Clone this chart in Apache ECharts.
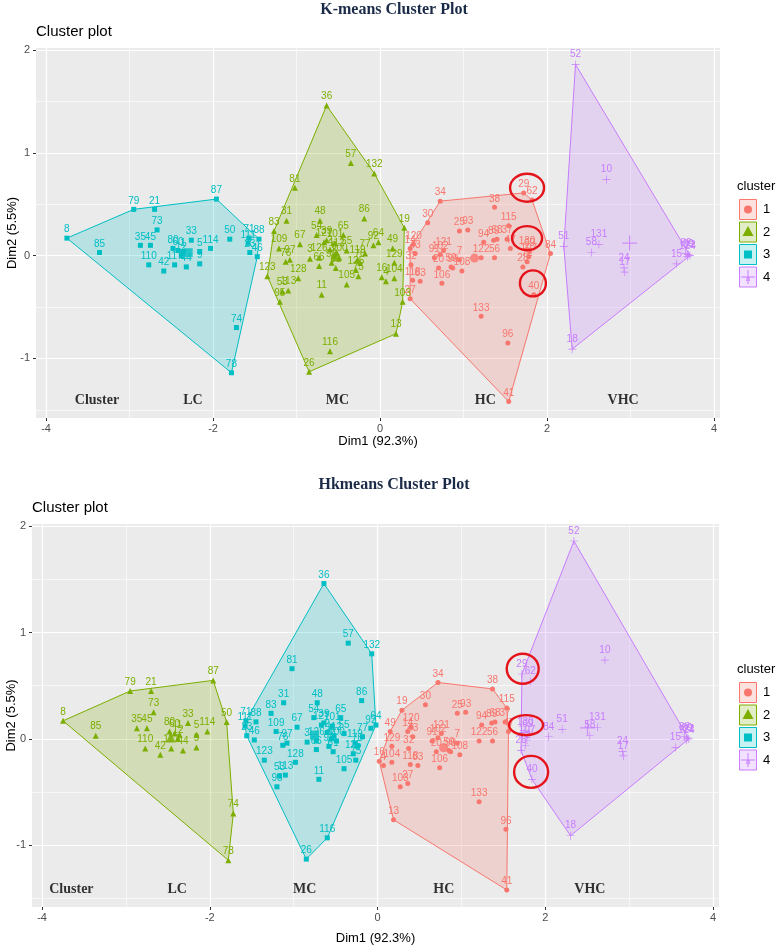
<!DOCTYPE html>
<html>
<head>
<meta charset="utf-8">
<title>K-means / Hkmeans cluster plots</title>
<script src="https://cdn.jsdelivr.net/npm/echarts@6/dist/echarts.min.js"></script>
<style>
  html, body { margin: 0; padding: 0; background: #fff; }
  #main { width: 778px; height: 949px; }
</style>
</head>
<body>
<div id="main"></div>
<script>
var obsId = [
  8, 85, 79, 21, 87, 73, 35, 45, 80, 33, 1, 60, 12, 5, 9, 114, 50, 110, 42, 117, 44, 74, 78,
  71, 111, 23, 46, 88,
  36, 57, 132, 81, 31, 48, 86, 83, 123, 109, 67, 76, 97, 3, 128, 53, 113, 95, 11, 116, 26, 105,
  54, 39, 101, 65, 55, 77, 92, 64, 127, 126, 2, 6, 112, 61, 66, 98, 100, 119, 70, 125, 75,
  19, 49, 129, 16, 4, 104, 103, 13,
  34, 38, 30, 25, 93, 115, 94, 89, 68, 37, 47, 120, 14, 43, 32, 118, 63, 27, 91, 102, 121, 20,
  7, 59, 90, 108, 122, 56, 106, 133, 96, 41,
  29, 62, 130, 69, 107, 72, 28, 84, 40,
  52, 10, 131, 51, 58, 24, 17, 15, 82, 99, 22, 124, 18
];
var dim1 = [
  -3.75, -3.36, -2.95, -2.70, -1.96, -2.67, -2.87, -2.75, -2.48, -2.26, -2.36, -2.42, -2.38, -2.16, -2.16, -2.03, -1.80, -2.77, -2.59, -2.46, -2.32, -1.72, -1.78,
  -1.57, -1.58, -1.56, -1.47, -1.45,
  -0.64, -0.35, -0.07, -1.02, -1.12, -0.72, -0.19, -1.27, -1.35, -1.21, -0.96, -1.13, -1.08, -0.84, -0.98, -1.17, -1.10, -1.20, -0.70, -0.60, -0.85, -0.40,
  -0.76, -0.64, -0.54, -0.44, -0.40, -0.18, -0.08, -0.02, -0.67, -0.73, -0.60, -0.55, -0.52, -0.53, -0.73, -0.58, -0.49, -0.27, -0.24, -0.29, -0.26,
  0.29, 0.15, 0.17, 0.02, 0.07, 0.17, 0.27, 0.19,
  0.72, 1.37, 0.57, 0.95, 1.05, 1.54, 1.24, 1.36, 1.40, 1.52, 1.56, 0.40, 0.36, 0.42, 0.37, 0.39, 0.48, 0.36, 0.65, 0.72, 0.76, 0.70,
  0.95, 0.85, 0.87, 0.98, 1.21, 1.37, 0.74, 1.21, 1.53, 1.54,
  1.72, 1.82, 1.76, 1.79, 1.78, 1.76, 1.71, 2.04, 1.84,
  2.34, 2.71, 2.62, 2.20, 2.53, 2.92, 2.93, 3.55, 3.66, 3.69, 3.71, 3.68, 2.30
];
var dim2 = [
  0.17, 0.03, 0.45, 0.45, 0.55, 0.25, 0.10, 0.10, 0.07, 0.15, 0.04, 0.05, 0.00, 0.04, -0.08, 0.07, 0.16, -0.09, -0.15, -0.09, -0.11, -0.70, -1.14,
  0.17, 0.12, 0.03, -0.01, 0.16,
  1.46, 0.90, 0.80, 0.66, 0.34, 0.34, 0.36, 0.24, -0.20, 0.07, 0.11, -0.06, -0.04, -0.03, -0.22, -0.35, -0.34, -0.45, -0.38, -0.93, -1.13, -0.28,
  0.20, 0.15, 0.12, 0.20, 0.05, 0.02, 0.10, 0.13, 0.13, -0.02, 0.06, 0.00, 0.03, -0.12, -0.10, -0.07, -0.02, -0.04, -0.07, -0.14, -0.20,
  0.27, 0.07, -0.07, -0.21, -0.25, -0.22, -0.45, -0.76,
  0.53, 0.47, 0.32, 0.24, 0.25, 0.29, 0.13, 0.15, 0.16, 0.16, 0.07, 0.11, 0.07, 0.02, -0.09, -0.24, -0.25, -0.42, -0.02, 0.01, 0.05, -0.12,
  -0.04, -0.11, -0.12, -0.15, -0.02, -0.02, -0.27, -0.59, -0.85, -1.42,
  0.61, 0.54, 0.06, 0.04, -0.01, -0.06, -0.11, 0.02, -0.38,
  1.86, 0.74, 0.11, 0.09, 0.03, -0.12, -0.16, -0.08, 0.02, 0.01, 0.00, -0.01, -0.91
];
// cluster membership for each observation (same order as obsId)
var kmCluster = [
  3, 3, 3, 3, 3, 3, 3, 3, 3, 3, 3, 3, 3, 3, 3, 3, 3, 3, 3, 3, 3, 3, 3,
  3, 3, 3, 3, 3,
  2, 2, 2, 2, 2, 2, 2, 2, 2, 2, 2, 2, 2, 2, 2, 2, 2, 2, 2, 2, 2, 2,
  2, 2, 2, 2, 2, 2, 2, 2, 2, 2, 2, 2, 2, 2, 2, 2, 2, 2, 2, 2, 2,
  2, 2, 2, 2, 2, 2, 2, 2,
  1, 1, 1, 1, 1, 1, 1, 1, 1, 1, 1, 1, 1, 1, 1, 1, 1, 1, 1, 1, 1, 1,
  1, 1, 1, 1, 1, 1, 1, 1, 1, 1,
  1, 1, 1, 1, 1, 1, 1, 1, 1,
  4, 4, 4, 4, 4, 4, 4, 4, 4, 4, 4, 4, 4
];
var hkCluster = [
  2, 2, 2, 2, 2, 2, 2, 2, 2, 2, 2, 2, 2, 2, 2, 2, 2, 2, 2, 2, 2, 2, 2,
  3, 3, 3, 3, 3,
  3, 3, 3, 3, 3, 3, 3, 3, 3, 3, 3, 3, 3, 3, 3, 3, 3, 3, 3, 3, 3, 3,
  3, 3, 3, 3, 3, 3, 3, 3, 3, 3, 3, 3, 3, 3, 3, 3, 3, 3, 3, 3, 3,
  1, 1, 1, 1, 1, 1, 1, 1,
  1, 1, 1, 1, 1, 1, 1, 1, 1, 1, 1, 1, 1, 1, 1, 1, 1, 1, 1, 1, 1, 1,
  1, 1, 1, 1, 1, 1, 1, 1, 1, 1,
  4, 4, 4, 4, 4, 4, 4, 4, 4,
  4, 4, 4, 4, 4, 4, 4, 4, 4, 4, 4, 4, 4
];

// text annotations inside the panels
var groupText = ['Cluster', 'LC', 'MC', 'HC', 'VHC'];
var groupXKm = [-3.39, -2.24, -0.51, 1.26, 2.91];
var groupXHk = [-3.65, -2.39, -0.87, 0.79, 2.53];
var groupY = -1.41;
// red highlight rings (centres in data units)
var ringXKm = [1.76, 1.76, 1.83];
var ringYKm = [0.66, 0.17, -0.27];
var ringXHk = [1.73, 1.77, 1.83];
var ringYHk = [0.66, 0.13, -0.31];

// axis ticks
var xTicks = [-4, -2, 0, 2, 4];
var xMinor = [-3, -1, 1, 3];
var yTicks = [-1, 0, 1, 2];
var yMinor = [-1.5, -0.5, 0.5, 1.5];

var colors = ['#F8766D', '#7CAE00', '#00BFC4', '#C77CFF'];
var plusPath = 'path://M4.6,0h0.8v4.6h4.6v0.8h-4.6v4.6h-0.8v-4.6h-4.6v-0.8h4.6z';
var shapes = ['circle', 'triangle', 'rect', plusPath];
var pointSize = [5, 6, 5, 8];
var centerSize = [9, 10, 9, 15];
var sansFont = 'Liberation Sans';
var serifFont = 'Liberation Serif';

function rgba(hex, a) {
  var n = parseInt(hex.slice(1), 16);
  return 'rgba(' + (n >> 16) + ',' + ((n >> 8) & 255) + ',' + (n & 255) + ',' + a + ')';
}

function convexHull(points) {
  var p = points.slice().sort(function (a, b) { return a[0] - b[0] || a[1] - b[1]; });
  if (p.length < 3) return p;
  function cross(o, a, b) { return (a[0] - o[0]) * (b[1] - o[1]) - (a[1] - o[1]) * (b[0] - o[0]); }
  var lower = [], upper = [];
  p.forEach(function (pt) {
    while (lower.length >= 2 && cross(lower[lower.length - 2], lower[lower.length - 1], pt) <= 0) lower.pop();
    lower.push(pt);
  });
  for (var i = p.length - 1; i >= 0; i--) {
    var pt = p[i];
    while (upper.length >= 2 && cross(upper[upper.length - 2], upper[upper.length - 1], pt) <= 0) upper.pop();
    upper.push(pt);
  }
  upper.pop();
  lower.pop();
  return lower.concat(upper);
}

var panels = [
  { title: 'K-means Cluster Plot', titleY: 10, subY: 32, clusters: kmCluster, groupX: groupXKm,
    ringX: ringXKm, ringY: ringYKm, ringR: [[17, 14], [15, 12], [13, 13]], legendY: 186,
    grid: { left: 36, top: 48, width: 684, height: 370 }, xGap: 17, yGap: 17 },
  { title: 'Hkmeans Cluster Plot', titleY: 485, subY: 508, clusters: hkCluster, groupX: groupXHk,
    ringX: ringXHk, ringY: ringYHk, ringR: [[16, 15], [17, 10], [17, 16]], legendY: 669,
    grid: { left: 32, top: 524, width: 687, height: 383 }, xGap: 25, yGap: 14 }
];

var grids = [], xAxes = [], yAxes = [], series = [], graphics = [];

panels.forEach(function (p, g) {
  grids.push({
    left: p.grid.left, top: p.grid.top, width: p.grid.width, height: p.grid.height,
    containLabel: false, outerBoundsMode: 'none',
    show: true, backgroundColor: '#EBEBEB', borderWidth: 0
  });
  [true, false].forEach(function (major) {
    xAxes.push({
      gridIndex: g, type: 'value', min: -4.12, max: 4.07, position: 'bottom',
      axisLine: { show: false, onZero: false },
      axisTick: { show: major, length: 3, lineStyle: { color: '#333333' }, customValues: major ? xTicks : xMinor },
      axisLabel: { show: major, customValues: major ? xTicks : xMinor, color: '#4D4D4D', fontSize: 11, margin: 5, fontFamily: sansFont },
      splitLine: { show: true, lineStyle: { color: '#FFFFFF', width: major ? 1.2 : 0.6 } },
      name: major ? 'Dim1 (92.3%)' : '', nameLocation: 'middle', nameGap: p.xGap, nameMoveOverlap: false,
      nameTextStyle: { color: '#000', fontSize: 13, fontFamily: sansFont }
    });
    yAxes.push({
      gridIndex: g, type: 'value', min: -1.58, max: 2.02, position: 'left',
      axisLine: { show: false, onZero: false },
      axisTick: { show: major, length: 3, lineStyle: { color: '#333333' }, customValues: major ? yTicks : yMinor },
      axisLabel: { show: major, customValues: major ? yTicks : yMinor, color: '#4D4D4D', fontSize: 11, margin: 6, fontFamily: sansFont },
      splitLine: { show: true, lineStyle: { color: '#FFFFFF', width: major ? 1.2 : 0.6 } },
      name: major ? 'Dim2 (5.5%)' : '', nameLocation: 'middle', nameGap: p.yGap, nameMoveOverlap: false,
      nameTextStyle: { color: '#000', fontSize: 13, fontFamily: sansFont }
    });
  });
  var ax = g * 2;

  var members = [[], [], [], []];
  for (var i = 0; i < obsId.length; i++) {
    members[p.clusters[i] - 1].push([dim1[i], dim2[i], String(obsId[i])]);
  }
  var hulls = members.map(function (m) {
    return convexHull(m.map(function (d) { return [d[0], d[1]]; }));
  });

  // convex hulls
  series.push({
    type: 'custom', xAxisIndex: ax, yAxisIndex: ax, silent: true, z: 1,
    data: hulls.map(function (h, c) { return [h[0][0], h[0][1], c]; }),
    renderItem: function (params, api) {
      var c = api.value(2);
      return {
        type: 'polygon',
        shape: { points: hulls[c].map(function (q) { return api.coord(q); }) },
        style: { fill: rgba(colors[c], 0.22), stroke: colors[c], lineWidth: 1 }
      };
    }
  });

  // observations
  members.forEach(function (m, c) {
    series.push({
      type: 'scatter', name: String(c + 1), xAxisIndex: ax, yAxisIndex: ax, z: 3, silent: true,
      symbol: shapes[c], symbolSize: pointSize[c],
      itemStyle: { color: colors[c], opacity: 1 },
      label: {
        show: true, position: 'top', distance: 1, fontSize: 10, fontFamily: sansFont,
        color: colors[c], formatter: function (d) { return d.value[2]; }
      },
      data: m
    });
  });

  // cluster centres
  series.push({
    type: 'scatter', xAxisIndex: ax, yAxisIndex: ax, z: 4, silent: true,
    data: members.map(function (m, c) {
      var sx = 0, sy = 0;
      m.forEach(function (d) { sx += d[0]; sy += d[1]; });
      return {
        value: [sx / m.length, sy / m.length],
        symbol: shapes[c], symbolSize: centerSize[c], itemStyle: { color: colors[c] }
      };
    })
  });

  // group annotations
  series.push({
    type: 'scatter', xAxisIndex: ax, yAxisIndex: ax, z: 5, silent: true, symbolSize: 0,
    data: groupText.map(function (t, k) { return [p.groupX[k], groupY, t]; }),
    label: {
      show: true, position: 'inside', fontSize: 14, fontWeight: 'bold', fontFamily: serifFont,
      color: '#000', formatter: function (d) { return d.value[2]; }
    }
  });

  // red rings
  series.push({
    type: 'custom', xAxisIndex: ax, yAxisIndex: ax, z: 6, silent: true,
    data: p.ringX.map(function (x, k) { return [x, p.ringY[k]]; }),
    renderItem: function (params, api) {
      var c = api.coord([api.value(0), api.value(1)]);
      var r = p.ringR[params.dataIndex];
      return {
        type: 'ellipse',
        shape: { cx: c[0], cy: c[1], rx: r[0], ry: r[1] },
        style: { fill: 'none', stroke: '#E5141B', lineWidth: 2.4 }
      };
    }
  });

  // titles
  graphics.push({
    type: 'text', x: 394, y: p.titleY,
    style: { text: p.title, fontSize: 16, fontWeight: 'bold', fontFamily: serifFont, fill: '#1B2A47',
      align: 'center', verticalAlign: 'middle' }
  });
  graphics.push({
    type: 'text', x: p.grid.left, y: p.subY,
    style: { text: 'Cluster plot', fontSize: 15, fontFamily: sansFont, fill: '#000',
      align: 'left', verticalAlign: 'middle' }
  });

  // legend
  graphics.push({
    type: 'text', x: 737, y: p.legendY,
    style: { text: 'cluster', fontSize: 13, fontFamily: sansFont, fill: '#000', align: 'left', verticalAlign: 'middle' }
  });
  colors.forEach(function (col, c) {
    var ky = p.legendY + 13.5 + c * 22.5;
    var cx = 748, cy = ky + 10;
    graphics.push({
      type: 'rect', shape: { x: 739.5, y: ky, width: 17, height: 20 },
      style: { fill: rgba(col, 0.22), stroke: col, lineWidth: 1 }
    });
    if (c === 0) {
      graphics.push({ type: 'circle', shape: { cx: cx, cy: cy, r: 4 }, style: { fill: col } });
    } else if (c === 1) {
      graphics.push({ type: 'polygon', shape: { points: [[cx, cy - 6], [cx - 5.5, cy + 4], [cx + 5.5, cy + 4]] }, style: { fill: col } });
    } else if (c === 2) {
      graphics.push({ type: 'rect', shape: { x: cx - 4, y: cy - 4, width: 8, height: 8 }, style: { fill: col } });
    } else {
      graphics.push({ type: 'line', shape: { x1: cx, y1: cy - 7, x2: cx, y2: cy + 7 }, style: { stroke: col, lineWidth: 1 } });
      graphics.push({ type: 'line', shape: { x1: cx - 7, y1: cy, x2: cx + 7, y2: cy }, style: { stroke: col, lineWidth: 1 } });
      graphics.push({ type: 'text', x: cx, y: cy + 2, style: { text: 'a', fontSize: 8, fontFamily: sansFont, fill: col, align: 'center', verticalAlign: 'middle' } });
    }
    graphics.push({
      type: 'text', x: 763, y: cy,
      style: { text: String(c + 1), fontSize: 13, fontFamily: sansFont, fill: '#000', align: 'left', verticalAlign: 'middle' }
    });
  });
});

var myChart = echarts.init(document.getElementById('main'));
var option = {
  backgroundColor: '#FFFFFF',
  animation: false,
  textStyle: { fontFamily: sansFont },
  grid: grids,
  xAxis: xAxes,
  yAxis: yAxes,
  series: series,
  graphic: graphics
};
myChart.setOption(option);
</script>
</body>
</html>
